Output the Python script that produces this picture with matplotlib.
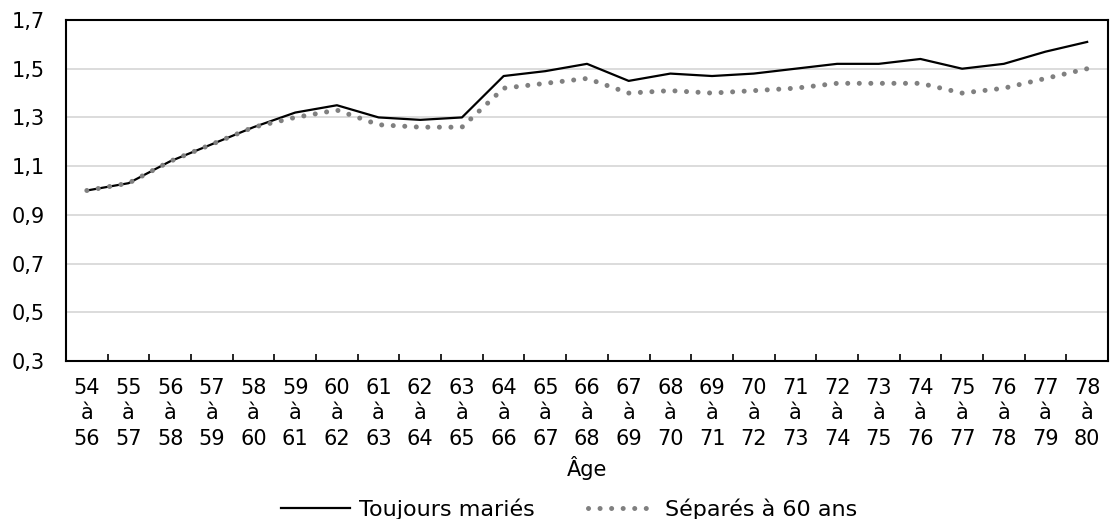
import matplotlib
matplotlib.use('Agg')

import matplotlib.pyplot as plt
import numpy as np

# ---------------- DATA ----------------
debut = list(range(54, 79))
categories = [f"{a}\nà\n{a + 2}" for a in debut]

toujours_maries = [1.00, 1.03, 1.12, 1.19, 1.26, 1.32, 1.35, 1.30, 1.29, 1.30,
                   1.47, 1.49, 1.52, 1.45, 1.48, 1.47, 1.48, 1.50, 1.52, 1.52,
                   1.54, 1.50, 1.52, 1.57, 1.61]
separes_60 = [1.00, 1.03, 1.12, 1.19, 1.26, 1.30, 1.33, 1.27, 1.26, 1.26,
              1.42, 1.44, 1.46, 1.40, 1.41, 1.40, 1.41, 1.42, 1.44, 1.44,
              1.44, 1.40, 1.42, 1.46, 1.50]

y_ticks = [0.3, 0.5, 0.7, 0.9, 1.1, 1.3, 1.5, 1.7]

# ---------------- FIGURE ----------------
plt.rcParams['font.family'] = ['DejaVu Sans']
fs = 15
fig = plt.figure(figsize=(11.1, 5.19), dpi=100)
ax = fig.add_axes([66 / 1110, 1 - 361 / 519, 1042 / 1110, 341 / 519])

x = np.arange(len(categories))

ax.plot(x, toujours_maries, color='black', linewidth=1.6, label='Toujours mariés', zorder=3)
ax.plot(x, separes_60, color='#808080', linewidth=3.6, linestyle=(0, (0.01, 2.3)),
        dash_capstyle='round', label='Séparés à 60 ans', zorder=3)

# axes
ax.set_xlim(-0.5, len(categories) - 0.5)
ax.set_ylim(0.3, 1.7)
ax.set_yticks(y_ticks)
ax.set_yticklabels([f"{v:.1f}".replace('.', ',') for v in y_ticks], fontsize=fs)
ax.tick_params(axis='y', length=0, pad=15)

ax.set_xticks(x)
ax.set_xticklabels(categories, fontsize=fs, linespacing=1.36)
ax.set_xticks(np.arange(0.5, len(categories) - 1, 1), minor=True)
ax.tick_params(axis='x', which='major', length=0, pad=12)
ax.tick_params(axis='x', which='minor', length=5, direction='in', width=1.2)

ax.grid(axis='y', color='#d9d9d9', linewidth=1.3, zorder=0)
ax.set_axisbelow(True)
for s in ax.spines.values():
    s.set_linewidth(1.5)
    s.set_color('black')

ax.set_xlabel("Âge", fontsize=fs, labelpad=5)

ax.legend(loc='center', bbox_to_anchor=(0.483, -0.435), ncol=2, frameon=False,
          fontsize=16, handlelength=3.1, columnspacing=2.4, handletextpad=0.4,
          borderaxespad=0, borderpad=0)

plt.savefig("out.png", dpi=100)
plt.close()
